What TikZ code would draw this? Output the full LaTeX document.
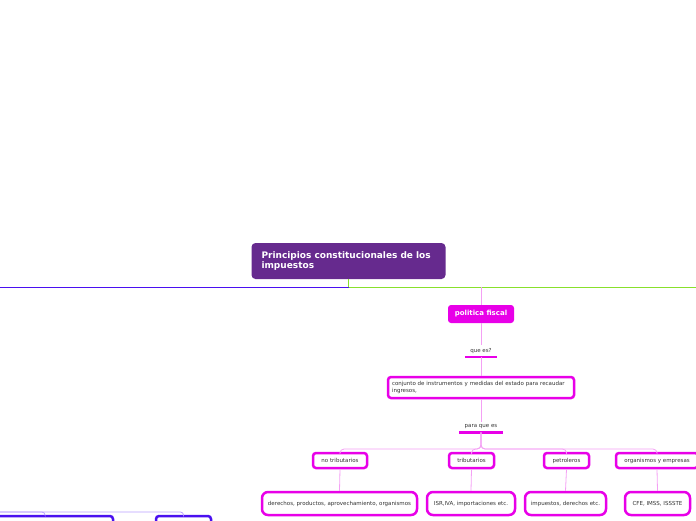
\documentclass[tikz,border=0pt]{standalone}
\usepackage{fontspec}
\setmainfont{DejaVu Sans}
\usetikzlibrary{calc}

\definecolor{morado}{HTML}{662A8E}
\definecolor{magenta}{HTML}{E800E8}
\definecolor{rosa}{HTML}{F4A0F4}
\definecolor{azul}{HTML}{4A10F0}
\definecolor{lila}{HTML}{B8A0FF}
\definecolor{verde}{HTML}{88E02C}
\definecolor{gris}{HTML}{333333}

\tikzset{
  every node/.style={
    inner sep=1.5pt,
    text=gris,
    font=\fontsize{5.5}{6.6}\selectfont
  },
  central/.style={
    fill=morado,
    rounded corners=4pt,
    text=white,
    font=\fontsize{9}{10.5}\selectfont\bfseries,
    align=left,
    text width=174pt,
    inner xsep=10pt,
    minimum width=194pt,
    minimum height=36pt
  },
  principal/.style={
    fill=magenta,
    rounded corners=3pt,
    text=white,
    font=\fontsize{7}{8}\selectfont\bfseries,
    minimum width=66pt,
    minimum height=18pt
  },
  pregunta/.style={
    inner ysep=3pt
  },
  subrayado/.style={
    magenta,
    line width=2.5pt
  },
  caja/.style={
    draw=magenta,
    fill=white,
    line width=2.5pt,
    rounded corners=3pt,
    minimum height=15pt
  },
  hoja/.style={
    draw=magenta,
    fill=white,
    line width=2.5pt,
    rounded corners=6pt,
    minimum height=23pt
  },
  cajaazul/.style={
    draw=azul,
    fill=white,
    line width=2.5pt,
    rounded corners=3pt,
    minimum height=24pt
  },
  rama/.style={
    rosa,
    line width=0.8pt,
    rounded corners=4pt
  }
}

\begin{document}
\begin{tikzpicture}[x=1pt,y=-1pt]
    \useasboundingbox (0,0) rectangle (696,520);
    \clip (0,0) rectangle (696,520);

    % tema central
    \node[central] (titulo) at (348.5,261)
        {Principios constitucionales de los\\impuestos};
    \coordinate (centro) at (348.5,287);
    \coordinate (izq) at (0,287);
    \coordinate (der) at (696,287);
    \coordinate (raiz) at (481,287);

    \draw[verde,line width=1.5pt] (titulo.south) -- (centro);
    \draw[verde,line width=1pt] (centro) -- (der);
    \draw[azul,line width=1pt] (centro) -- (izq);

    % politica fiscal
    \node[principal] (politica) at (481,314) {politica fiscal};
    \draw[rama] (raiz) -- (politica.north);

    \node[pregunta,minimum width=32pt] (quees) at (481,351) {que es?};
    \draw[subrayado] (quees.south west) -- (quees.south east);
    \draw[rama] (politica.south) -- (quees.north);

    \node[caja,align=left,text width=178pt,inner xsep=4pt,minimum height=21pt] (conjunto) at (481,387.5)
        {conjunto de instrumentos y medidas del estado para recaudar\\ingresos,};
    \draw[rama] (quees.south) -- (conjunto.north);

    \node[pregunta,minimum width=43pt] (paraque) at (481,427) {para que es};
    \draw[subrayado] (paraque.south west) -- (paraque.south east);
    \draw[rama] (conjunto.south) -- (paraque.north);

    % tipos de ingresos
    \coordinate (bus) at (481,449);
    \node[caja,minimum width=54pt] (notrib) at (340,460.5) {no tributarios};
    \node[caja,minimum width=45pt] (trib) at (471.5,460.5) {tributarios};
    \node[caja,minimum width=45pt] (petro) at (566.5,460.5) {petroleros};
    \node[caja,minimum width=82pt] (organ) at (657,460.5) {organismos y empresas};

    \foreach \hijo in {notrib,trib,petro,organ}
        \draw[rama] (paraque.south) -- (bus) -| (\hijo.north);

    % ejemplos
    \node[hoja,minimum width=155pt] (derechos) at (339.5,503.5)
        {derechos, productos, aprovechamiento, organismos};
    \node[hoja,minimum width=88pt] (isr) at (471,503.5) {ISR,IVA, importaciones etc.};
    \node[hoja,minimum width=81pt] (impuestos) at (565.5,503.5) {impuestos, derechos etc.};
    \node[hoja,minimum width=65pt] (cfe) at (657.5,503.5) {CFE, IMSS, ISSSTE};

    \foreach \a/\b in {notrib/derechos,trib/isr,petro/impuestos,organ/cfe}
        \draw[rama] (\a.south) -- (\b.north);

    % rama izquierda (cortada)
    \coordinate (izqhub) at (-20,512);
    \node[cajaazul,minimum width=136pt] (cajaA) at (45,528) {};
    \node[cajaazul,minimum width=55pt] (cajaB) at (183.5,528) {};
    \foreach \c in {cajaA,cajaB}
        \draw[lila,line width=0.8pt,rounded corners=3pt] (izqhub) -| (\c.north);
\end{tikzpicture}
\end{document}
